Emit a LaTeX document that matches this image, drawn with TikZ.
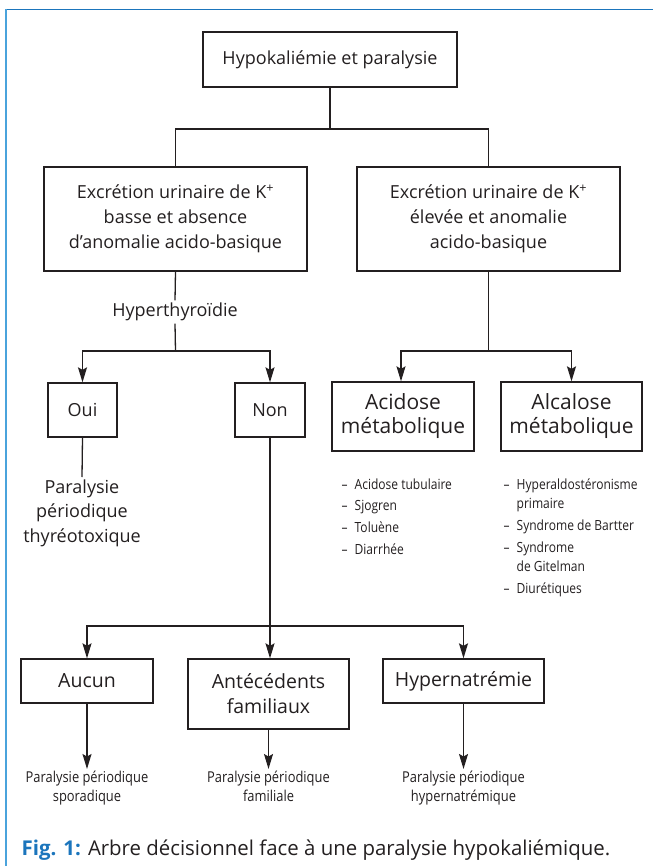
\documentclass[tikz,border=0pt]{standalone}
\usepackage{fontspec}
\setmainfont{Open Sans}
\newfontfamily\narrowfont{Open Sans}[FakeStretch=0.86]
\usetikzlibrary{arrows.meta}
\definecolor{figblue}{HTML}{1B75BC}
\definecolor{frameblue}{HTML}{4AA3DC}
\definecolor{ink}{HTML}{231F20}

\begin{document}
\begin{tikzpicture}[x=1pt, y=-1pt, color=ink, line width=1.3pt,
  box/.style={draw=ink, line width=1.3pt, align=center, inner sep=0pt, font=\fontsize{18}{25}\selectfont},
  leaf/.style={align=center, inner sep=1pt, anchor=north, font=\narrowfont\fontsize{15}{19}\selectfont},
  plain/.style={align=center, inner sep=2pt, font=\fontsize{18}{24.5}\selectfont},
  arr/.style={-{Stealth[length=15pt, width=9pt, inset=2.5pt]}}]
\useasboundingbox (0,0) rectangle (653,866);
% frame
\draw[figblue, line width=1.5pt] (5,9.3) -- (653,9.3);
\draw[frameblue, line width=2pt] (5.5,9) -- (5.5,866);

% boxes
\node[box, minimum width=254pt, minimum height=55pt] (hypo) at (330,59.5) {Hypokaliémie et paralysie};
\node[box, minimum width=263pt, minimum height=104pt] (low) at (175.5,219) {Excrétion urinaire de K\textsuperscript{+}\\basse et absence\\d’anomalie acido-basique};
\node[box, minimum width=263pt, minimum height=104pt] (high) at (488.5,219) {Excrétion urinaire de K\textsuperscript{+}\\élevée et anomalie\\acido-basique};
\node[plain] (hth) at (175,312) {Hyperthyroïdie};
\node[box, minimum width=69pt, minimum height=54pt] (oui) at (82.5,410) {Oui};
\node[box, minimum width=70pt, minimum height=54pt] (non) at (270,410) {Non};
\node[box, minimum width=142pt, minimum height=69pt, font=\fontsize{21}{24}\selectfont] (acid) at (403,416.5) {Acidose\\métabolique};
\node[box, minimum width=141pt, minimum height=69pt, font=\fontsize{21}{24}\selectfont] (alca) at (571.5,416.5) {Alcalose\\métabolique};
\node[plain, anchor=north] (thyreo) at (82,477) {Paralysie\\périodique\\thyréotoxique};
\node[box, minimum width=132pt, minimum height=44pt, font=\fontsize{19.5}{25}\selectfont] (aucun) at (87,681) {Aucun};
\node[box, minimum width=161pt, minimum height=70pt, font=\fontsize{19.5}{25}\selectfont] (ante) at (268.5,694) {Antécédents\\familiaux};
\node[box, minimum width=161pt, minimum height=44pt, font=\fontsize{19.5}{25}\selectfont] (hyper) at (463.5,681) {Hypernatrémie};

% lists
\node[inner sep=0pt, anchor=base west, font=\narrowfont\fontsize{14}{19}\selectfont] (acidlist) at (341,489)
  {\begin{tabular}[t]{@{}l@{\hspace{7pt}}l@{}}
   – & Acidose tubulaire\\[2.7pt]
   – & Sjogren\\[2.7pt]
   – & Toluène\\[2.7pt]
   – & Diarrhée
   \end{tabular}};
\node[inner sep=0pt, anchor=base west, font=\narrowfont\fontsize{14}{19}\selectfont] (alcalist) at (503,489)
  {\begin{tabular}[t]{@{}l@{\hspace{7pt}}l@{}}
   – & Hyperaldostéronisme\\
     & primaire\\[3pt]
   – & Syndrome de Bartter\\[3pt]
   – & Syndrome\\
     & de Gitelman\\[3pt]
   – & Diurétiques
   \end{tabular}};

% outcomes
\node[leaf] (spor) at (87,769) {Paralysie périodique\\sporadique};
\node[leaf] (fami) at (268.5,769) {Paralysie périodique\\familiale};
\node[leaf] (hnat) at (463.5,769) {Paralysie périodique\\hypernatrémique};

% junctions
\coordinate (j1) at (330,129);
\coordinate (j2) at (175.5,351);
\coordinate (j3) at (488.5,351);
\coordinate (j4) at (270,626);

% connectors
\draw (hypo.south) -- (j1) -| (low.north);
\draw (j1) -| (high.north);
\draw (low.south) -- (hth.north);
\draw (hth.south) -- (j2);
\draw[arr] (j2) -| (oui.north);
\draw[arr] (j2) -| (non.north);
\draw (oui.south) -- (thyreo.north);
\draw (high.south) -- (j3);
\draw[arr] (j3) -| ([xshift=-2pt]acid.north);
\draw[arr] (j3) -| (alca.north);
\draw (non.south) -- (j4);
\draw[arr] (j4) -| (aucun.north);
\draw[arr] (j4) -- (j4 |- ante.north);
\draw[arr] (j4) -| (hyper.north);
\draw[arr] (aucun.south) -- (spor.north);
\draw[arr] (ante.south) -- (fami.north);
\draw[arr] (hyper.south) -- (hnat.north);

% caption
\node[inner sep=0pt, anchor=base west, font=\fontsize{20.4}{24}\selectfont] (caption) at (21,855)
  {{\color{figblue}\bfseries Fig. 1:} Arbre décisionnel face à une paralysie hypokaliémique.};
\end{tikzpicture}
\end{document}
